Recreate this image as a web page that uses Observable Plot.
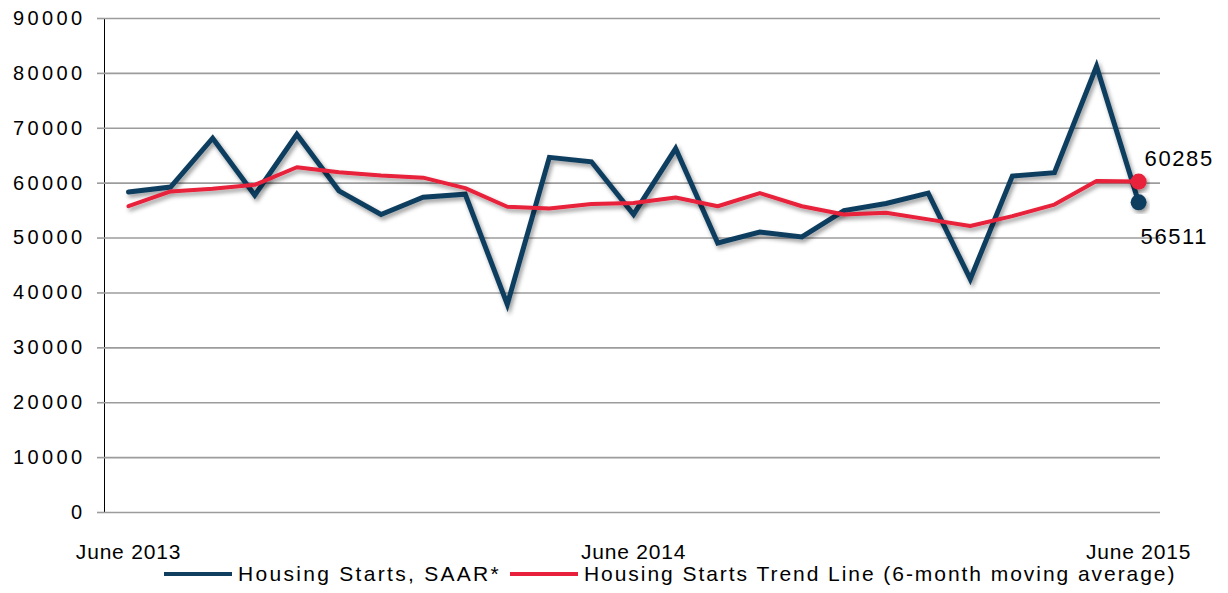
<!DOCTYPE html>
<html>
<head>
<meta charset="utf-8">
<script src="https://cdn.jsdelivr.net/npm/d3@7"></script>
<script src="https://cdn.jsdelivr.net/npm/@observablehq/plot@0.6"></script>
<style>
  html, body { margin: 0; padding: 0; background: #fff; }
  #chart { width: 1228px; height: 568px; font-family: "Liberation Sans", Arial, sans-serif; }
  #legend { position: relative; height: 25px; font-family: "Liberation Sans", Arial, sans-serif; font-size: 21px; color: #000; }
  .item { position: absolute; top: -5px; display: flex; align-items: center; height: 22px; white-space: nowrap; }
  .sw { display: inline-block; width: 68px; height: 4px; margin-right: 6px; }
</style>
</head>
<body>
<div id="chart"></div>
<div id="legend"></div>
<script>
const months = ["Jun 2013","Jul 2013","Aug 2013","Sep 2013","Oct 2013","Nov 2013","Dec 2013",
  "Jan 2014","Feb 2014","Mar 2014","Apr 2014","May 2014","Jun 2014","Jul 2014","Aug 2014",
  "Sep 2014","Oct 2014","Nov 2014","Dec 2014","Jan 2015","Feb 2015","Mar 2015","Apr 2015",
  "May 2015","Jun 2015"];
const starts = [58400, 59300, 68200, 57800, 68900, 58600, 54300, 57450, 58000, 37900, 64700, 63900,
  54300, 66300, 49100, 51100, 50200, 55000, 56300, 58200, 42500, 61300, 61900, 81300, 56511];
const trend = [55800, 58500, 59000, 59700, 62900, 62000, 61400, 61000, 59100, 55700, 55400, 56200,
  56400, 57400, 55800, 58200, 55800, 54300, 54600, 53400, 52200, 54000, 56100, 60400, 60285];
const xTickLabels = ["June 2013", "June 2014", "June 2015"];
const xTickMonths = ["Jun 2013", "Jun 2014", "Jun 2015"];
const yTicks = [0, 10000, 20000, 30000, 40000, 50000, 60000, 70000, 80000, 90000];
const seriesNames = ["Housing Starts, SAAR*", "Housing Starts Trend Line (6-month moving average)"];

const BLUE = "#0f3e5e", RED = "#e8203b";

const rowsS = months.map((m, i) => ({i, m, v: starts[i]}));
const rowsT = months.map((m, i) => ({i, m, v: trend[i]}));
const last = months.length - 1;
const endS = [rowsS[last]], endT = [rowsT[last]];
const xTicks = xTickMonths.map(m => months.indexOf(m));

const svg = Plot.plot({
  width: 1228,
  height: 568,
  marginLeft: 104,
  marginRight: 68,
  marginTop: 18,
  marginBottom: 56,
  style: {fontFamily: "'Liberation Sans', Arial, sans-serif", fontSize: "20px", color: "#000", background: "#fff"},
  x: {type: "linear", domain: [-0.57, last + 0.52], ticks: xTicks, tickFormat: i => xTickLabels[xTicks.indexOf(i)], tickSize: 0, tickPadding: 32, label: null},
  y: {domain: [0, 90000], ticks: yTicks, tickFormat: d => String(d), tickSize: 7, tickPadding: 12, label: null, line: true},
  marks: [
    Plot.ruleY(yTicks, {stroke: "#9c9c9c", strokeWidth: 1.6}),
    Plot.line(rowsS, {x: "i", y: "v", stroke: BLUE, strokeWidth: 5, strokeLinejoin: "miter", strokeMiterlimit: 4}),
    Plot.line(rowsT, {x: "i", y: "v", stroke: RED, strokeWidth: 4, strokeLinejoin: "round"}),
    Plot.dot(endS, {x: "i", y: "v", r: 8, fill: BLUE}),
    Plot.dot(endT, {x: "i", y: "v", r: 8, fill: RED}),
    Plot.text(endT, {x: "i", y: "v", text: d => String(d.v), textAnchor: "start", dx: 6, dy: -23, fontSize: 22, fill: "#000"}),
    Plot.text(endS, {x: "i", y: "v", text: d => String(d.v), textAnchor: "start", dx: 2, dy: 35, fontSize: 22, fill: "#000"})
  ]
});

// drop shadow like the original
const s = d3.select(svg);
const defs = s.insert("defs", ":first-child");
const f = defs.append("filter").attr("id", "shd").attr("x", "-10%").attr("y", "-10%").attr("width", "130%").attr("height", "130%");
f.append("feDropShadow").attr("dx", 2).attr("dy", 3).attr("stdDeviation", 2.2).attr("flood-color", "#000").attr("flood-opacity", 0.4);
s.selectAll('g[aria-label="line"], g[aria-label="dot"]').attr("filter", "url(#shd)");

// axis styling
s.selectAll('g[aria-label^="y-axis"] line, g[aria-label^="y-axis"] path').attr("stroke", "#9c9c9c").attr("stroke-width", 1.6).attr("stroke-opacity", 1);
s.selectAll('g[aria-label^="y-axis"] text').style("font-size", "20px").style("letter-spacing", "3.4px").attr("fill", "#000");
s.selectAll('g[aria-label^="x-axis"] text').style("font-size", "21px").style("letter-spacing", "0.8px").attr("fill", "#000");
s.selectAll('g[aria-label="text"] text').style("letter-spacing", "1.6px");

document.getElementById("chart").appendChild(svg);

// legend
const legend = document.getElementById("legend");
const colors = [BLUE, RED];
const lefts = [164, 510];
const spacing = ["2.3px", "1.95px"];
seriesNames.forEach((name, k) => {
  const it = document.createElement("div");
  it.className = "item";
  it.style.left = lefts[k] + "px";
  it.style.letterSpacing = spacing[k];
  const sw = document.createElement("span");
  sw.className = "sw";
  sw.style.background = colors[k];
  it.appendChild(sw);
  it.appendChild(document.createTextNode(name));
  legend.appendChild(it);
});
</script>
</body>
</html>
